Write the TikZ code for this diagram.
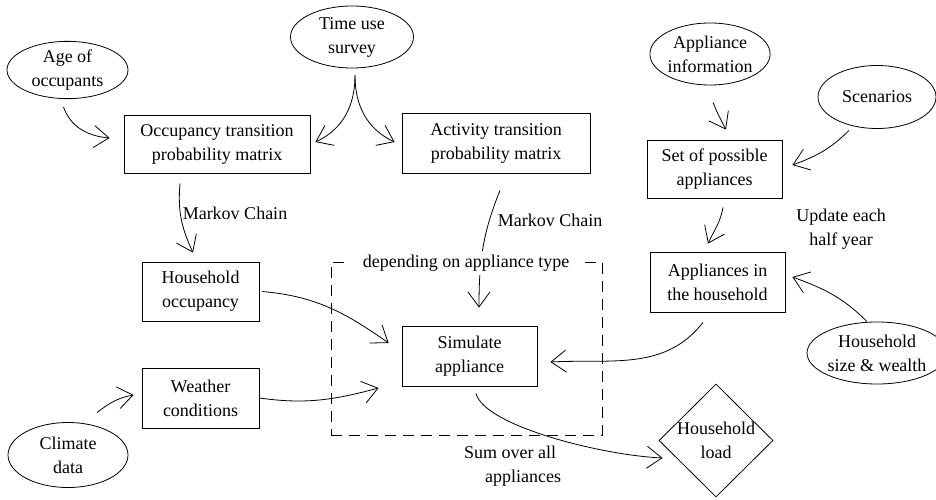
\documentclass[tikz,border=0pt]{standalone}
\usepackage{fontspec}
\setmainfont{Liberation Serif}
\usetikzlibrary{arrows.meta,shapes.geometric}
\tikzset{
  lbl/.style={font=\fontsize{18}{24}\selectfont, align=center, inner sep=0pt},
  ell/.style={lbl, draw, ellipse},
  boxn/.style={lbl, draw, rectangle},
  arr/.style={line width=0.8pt, -{Straight Barb[length=15pt,width=22pt,line width=0.8pt]}},
}
\begin{document}
\begin{tikzpicture}[x=1pt,y=1pt, line width=0.8pt]
\useasboundingbox (0,0) rectangle (936,-500);
% ellipses
\node[ell, minimum width=121pt, minimum height=54pt] (age) at (67.5,-70) {Age of\\occupants};
\node[ell, minimum width=123pt, minimum height=62pt] (tus) at (352,-37) {Time use\\survey};
\node[ell, minimum width=120pt, minimum height=62pt] (ainfo) at (710,-54) {Appliance\\information};
\node[ell, minimum width=118pt, minimum height=63pt] (scen) at (877,-97) {Scenarios};
\node[ell, minimum width=117pt, minimum height=62pt] (hsw) at (877,-353) {Household\\size \& wealth};
\node[ell, minimum width=120pt, minimum height=65pt] (clim) at (68,-455) {Climate\\data};
% boxes
\node[boxn, minimum width=186pt, minimum height=58pt] (occm) at (217,-144) {Occupancy transition\\probability matrix};
\node[boxn, minimum width=188pt, minimum height=60pt] (actm) at (496,-143) {Activity transition\\probability matrix};
\node[boxn, minimum width=135pt, minimum height=58pt] (setp) at (714.5,-169) {Set of possible\\appliances};
\node[boxn, minimum width=135pt, minimum height=60pt] (appl) at (717.5,-282) {Appliances in\\the household};
\node[boxn, minimum width=117pt, minimum height=59pt] (hocc) at (200.5,-291.5) {Household\\occupancy};
\node[boxn, minimum width=117pt, minimum height=60pt] (weat) at (200.5,-398) {Weather\\conditions};
\node[boxn, minimum width=135pt, minimum height=60pt] (sim) at (469.5,-356) {Simulate\\appliance};
\node[draw, dash pattern=on 11pt off 7pt, minimum width=271pt, minimum height=173pt, inner sep=0pt] (grp) at (466.5,-348.5) {};
\node[lbl, draw, diamond, minimum width=114pt, minimum height=113pt, inner sep=-3pt] (load) at (716,-440.5) {\rule{0pt}{10pt}Household\\load};
% labels
\node[lbl] (mc1) at (235,-213) {Markov Chain};
\node[lbl] (mc2) at (550,-220) {Markov Chain};
\node[lbl] (upd) at (841,-229) {Update each\\half year};
\node[lbl] (sum) at (510,-466) {Sum over all\\\hspace*{26pt}appliances};
% connectors
\draw[arr] ([xshift=-4pt,yshift=-8pt]age.south) to[out=-70,in=175] ([xshift=-14pt,yshift=6pt]occm.west);
\draw[arr] ([xshift=3pt,yshift=-7pt]tus.south) to[out=-90,in=25] ([xshift=5pt,yshift=2pt]occm.east);
\draw[arr] ([xshift=3pt,yshift=-7pt]tus.south) to[out=-90,in=155] ([xshift=-7pt,yshift=1pt]actm.west);
\draw[arr] ([xshift=-37pt,yshift=-10pt]occm.south) to[out=-95,in=115] ([xshift=-7.5pt,yshift=9pt]hocc.north);
\draw[arr] ([xshift=4pt,yshift=-17pt]actm.south) to[out=-112,in=90] ([xshift=9.5pt,yshift=18pt]sim.north);
\draw[arr] ([xshift=3pt]hocc.east) to[out=-5,in=145] ([xshift=-13pt,yshift=13pt]sim.west);
\draw[arr] (weat.east) to[out=-8,in=195] ([xshift=-23pt,yshift=-32pt]sim.west);
\draw[arr] ([xshift=-14.5pt,yshift=-10pt]appl.south) to[out=-128,in=3] ([xshift=13pt,yshift=-6pt]sim.east);
\draw[arr] ([xshift=6.5pt,yshift=-7pt]sim.south) .. controls +(8,-32) and +(-63,3) .. ([xshift=4pt,yshift=-17.5pt]load.west);
\draw[arr] ([xshift=29pt,yshift=9.5pt]clim.north) to[out=38,in=190] ([xshift=-8pt,yshift=3pt]weat.west);
\draw[arr] ([xshift=3pt,yshift=-17pt]ainfo.south) to[out=-68,in=118] ([xshift=11.5pt,yshift=10pt]setp.north);
\draw[arr] ([xshift=-28pt,yshift=-1.5pt]scen.south) to[out=-135,in=20] ([xshift=10pt,yshift=4pt]setp.east);
\draw[arr] ([xshift=8.5pt,yshift=-9pt]setp.south) to[out=-100,in=65] ([xshift=-9.5pt,yshift=8pt]appl.north);
\draw[arr] ([xshift=-10pt]hsw.north) to[out=135,in=-20] ([xshift=7pt,yshift=5pt]appl.east);
% group label on top of the dashed box
\node[lbl, fill=white, inner xsep=14pt, inner ysep=4pt] (dep) at (466,-263) {depending on appliance type};
\end{tikzpicture}
\end{document}
